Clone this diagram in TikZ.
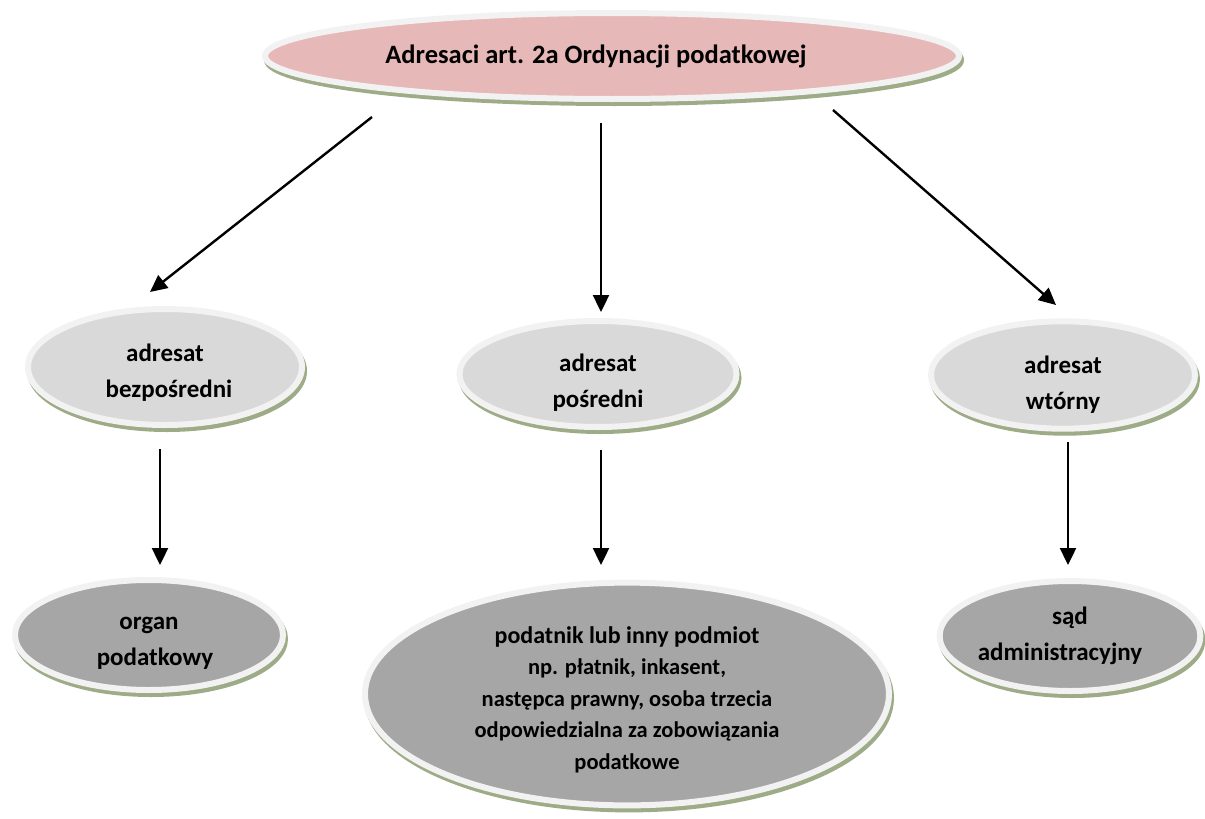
\documentclass[tikz,border=0pt]{standalone}
\usepackage{fontspec}
\setmainfont{Carlito}
\usetikzlibrary{arrows.meta,shapes.geometric}

\definecolor{ringgray}{HTML}{F2F2F2}
\definecolor{rimgreen}{HTML}{9DAB87}
\definecolor{pinkfill}{HTML}{E6B8B7}
\definecolor{lightfill}{HTML}{D9D9D9}
\definecolor{darkfill}{HTML}{A6A6A6}

% invisible strut that lowers a label block inside its bubble
\newcommand\labeldrop[1]{\rule{0pt}{#1}}

\tikzset{
  bubble/.style={ellipse, draw=ringgray, line width=6pt, inner sep=0pt,
    align=center, text=black,
    preaction={fill=rimgreen, draw=rimgreen, line width=6pt,
      transform canvas={xshift=2pt, yshift=-4pt}}},
  labelfont/.style={font=\fontsize{25}{36}\selectfont\bfseries},
  arr/.style={line width=2.4pt, -{Triangle[length=17pt,width=16pt]}},
}

\begin{document}
\begin{tikzpicture}[x=1pt,y=-1pt]
\useasboundingbox (0,0) rectangle (1205,819);

% top node
\node[bubble, fill=pinkfill, minimum width=694pt, minimum height=86pt,
      font=\fontsize{26.5}{30}\selectfont\bfseries] (top) at (612,56)
  {Adresaci art. 2a Ordynacji podatkowej\hspace*{32pt}};

% second row
\node[bubble, fill=lightfill, labelfont, minimum width=274pt, minimum height=116pt]
  (bez) at (165,367) {\labeldrop{29pt}adresat\\\hspace*{8pt}bezpośredni};
\node[bubble, fill=lightfill, labelfont, minimum width=277pt, minimum height=106pt]
  (pos) at (598,374) {\labeldrop{34pt}adresat\\pośredni};
\node[bubble, fill=lightfill, labelfont, minimum width=264pt, minimum height=100pt]
  (wto) at (1063,375) {\labeldrop{36pt}adresat\\wtórny};

% third row
\node[bubble, fill=darkfill, labelfont, minimum width=268pt, minimum height=110pt]
  (org) at (149,635) {\labeldrop{28pt}organ\\\hspace*{12pt}podatkowy};
\node[bubble, fill=darkfill, minimum width=524pt, minimum height=212pt,
      font=\fontsize{22.5}{31.5}\selectfont\bfseries]
  (pod) at (627,694)
  {{\fontsize{24}{31.5}\selectfont\labeldrop{28pt}podatnik lub inny podmiot}\\
   np. płatnik, inkasent,\\
   następca prawny, osoba trzecia\\
   odpowiedzialna za zobowiązania\\
   podatkowe};
\node[bubble, fill=darkfill, labelfont, minimum width=260pt, minimum height=110pt]
  (sad) at (1070,636) {sąd\\administracyjny\hspace*{20pt}};

% arrow end points
\coordinate (top-l) at (372,117);
\coordinate (top-m) at (601,123);
\coordinate (top-r) at (833,110);
\coordinate (bez-in) at (150,292);
\coordinate (pos-in) at (601,312);
\coordinate (wto-in) at (1056,305);
\coordinate (bez-out) at (160,449);
\coordinate (pos-out) at (601,450);
\coordinate (wto-out) at (1068,442);
\coordinate (org-in) at (160,565);
\coordinate (pod-in) at (601,565);
\coordinate (sad-in) at (1068,565);

\draw[arr] (top-l) -- (bez-in);
\draw[arr] (top-m) -- (pos-in);
\draw[arr] (top-r) -- (wto-in);
\draw[arr] (bez-out) -- (org-in);
\draw[arr] (pos-out) -- (pod-in);
\draw[arr] (wto-out) -- (sad-in);
\end{tikzpicture}
\end{document}
